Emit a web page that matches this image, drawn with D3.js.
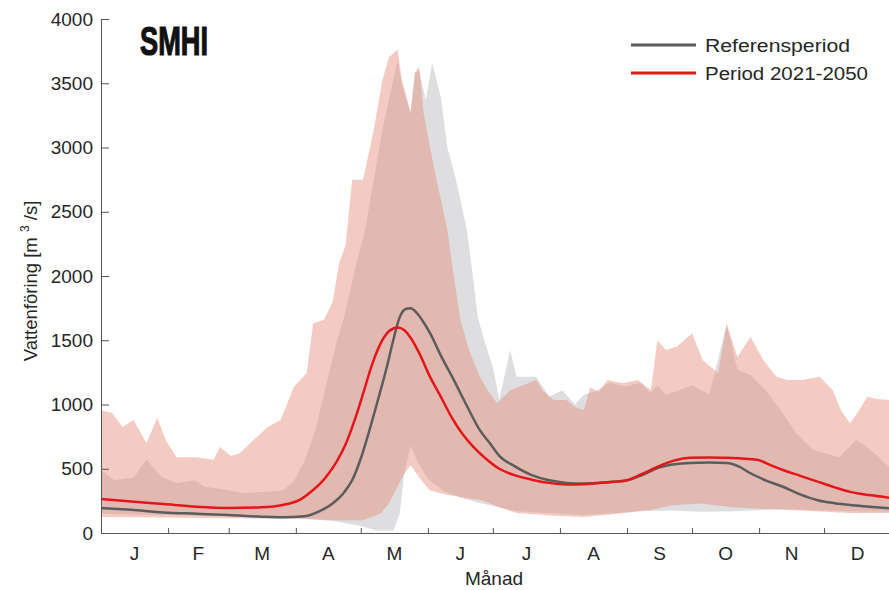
<!DOCTYPE html>
<html>
<head>
<meta charset="utf-8">
<script src="https://cdn.jsdelivr.net/npm/d3@7"></script>
<style>
  body { margin: 0; background: #fff; }
  text { font-family: "Liberation Sans", Arial, sans-serif; fill: #262626; }
</style>
</head>
<body>
<div id="chart"></div>
<script>
// dag på året, värde (m3/s)
var monthLabels = ["J","F","M","A","M","J","J","A","S","O","N","D"];
var monthStarts = [1,32,60,91,121,152,182,213,244,274,305,335,366];
var yTicks = [0,500,1000,1500,2000,2500,3000,3500,4000];

var refMean = [[1,195],[15,180],[30,160],[45,150],[60,140],[75,127],[85,122],[95,130],[102,170],[108,230],[113,310],[117,410],[121,580],[125,800],[129,1040],[133,1290],[136,1500],[139,1680],[142,1745],[144,1750],[147,1710],[150,1640],[153,1555],[158,1380],[164,1190],[170,990],[176,800],[181,690],[185,600],[192,520],[200,450],[208,410],[216,390],[224,385],[231,390],[238,398],[244,410],[251,450],[258,505],[266,535],[273,545],[282,548],[290,545],[296,515],[301,465],[308,410],[316,360],[324,300],[332,255],[340,232],[347,218],[356,205],[365,192]];

var futMean = [[1,265],[15,245],[30,225],[45,205],[60,195],[75,200],[85,218],[93,260],[99,335],[102,380],[106,460],[110,560],[114,690],[118,870],[122,1080],[126,1300],[130,1470],[134,1570],[138,1600],[141,1580],[144,1520],[148,1400],[153,1215],[158,1060],[163,900],[168,770],[173,670],[178,590],[185,500],[192,450],[200,415],[208,390],[216,378],[224,380],[231,390],[238,398],[244,410],[251,460],[258,515],[266,565],[273,585],[282,588],[290,585],[297,580],[304,570],[310,530],[316,490],[324,445],[332,400],[340,355],[347,320],[356,295],[365,275]];

var futMax = [[1,955],[6,935],[11,825],[16,880],[22,700],[27,895],[31,720],[36,590],[45,590],[53,570],[56,670],[61,600],[65,620],[70,700],[78,825],[84,880],[90,1135],[96,1245],[99,1630],[104,1660],[108,1800],[111,2100],[114,2240],[117,2750],[122,2750],[124,2900],[127,3140],[131,3525],[134,3705],[138,3760],[140,3525],[144,3270],[146,3580],[148,3630],[150,3270],[153,3000],[156,2750],[161,2360],[164,1990],[167,1660],[171,1425],[176,1215],[180,1100],[184,1010],[190,1110],[196,1150],[202,1190],[205,1110],[210,1035],[216,1035],[220,980],[224,955],[227,1135],[231,1100],[235,1190],[242,1165],[249,1190],[255,1110],[258,1500],[262,1425],[267,1450],[274,1555],[279,1345],[286,1245],[290,1630],[295,1370],[301,1525],[307,1345],[313,1215],[318,1190],[325,1190],[333,1215],[339,1110],[343,950],[347,855],[351,950],[355,1060],[360,1040],[365,1035]];

var futMin = [[1,125],[30,120],[60,115],[90,110],[110,100],[122,100],[130,150],[134,230],[137,330],[141,460],[144,530],[148,430],[153,330],[160,300],[170,270],[177,255],[185,200],[193,155],[210,135],[224,125],[240,150],[255,180],[265,215],[278,230],[293,200],[316,180],[347,155],[365,155]];

var refMax = [[1,490],[7,410],[16,430],[22,570],[29,435],[36,390],[44,410],[49,360],[59,335],[67,310],[76,320],[85,330],[90,400],[95,560],[100,800],[105,1150],[110,1500],[113,1660],[119,2100],[123,2360],[127,2750],[131,3140],[134,3370],[138,3680],[140,3490],[144,3270],[146,3580],[148,3600],[151,3370],[154,3660],[158,3390],[161,3000],[165,2750],[170,2360],[173,1970],[175,1680],[178,1500],[182,1290],[185,1035],[190,1425],[193,1215],[202,1215],[208,1060],[214,1110],[220,1000],[224,1075],[229,1100],[236,1170],[243,1140],[250,1170],[255,1090],[258,1150],[262,1075],[268,1110],[274,1150],[282,1075],[290,1620],[295,1270],[301,1230],[308,1110],[315,955],[322,780],[330,645],[342,590],[350,725],[355,670],[365,515]];

var refMin = [[1,150],[30,140],[60,130],[90,120],[110,90],[122,50],[128,20],[136,20],[139,150],[141,450],[144,680],[147,560],[152,420],[160,320],[170,260],[177,230],[193,170],[224,140],[250,170],[265,175],[278,165],[293,170],[316,185],[347,170],[365,165]];

var W = 889, H = 590;
var plot = {left: 101, right: 889, top: 19, bottom: 533};

var svg = d3.select("#chart").append("svg")
	.attr("width", W)
	.attr("height", H);

var x = d3.scaleLinear().domain([1,365]).range([plot.left, plot.right]);
var y = d3.scaleLinear().domain([0,4000]).range([plot.bottom, plot.top]);

svg.append("defs").append("clipPath")
	.attr("id", "clip")
	.append("rect")
	.attr("x", plot.left)
	.attr("y", plot.top)
	.attr("width", plot.right - plot.left)
	.attr("height", plot.bottom - plot.top);

var pts = d3.line()
	.x(function(d) { return x(d[0]); })
	.y(function(d) { return y(d[1]); });

function band(upper, lower) {
	return pts(upper.concat(lower.slice().reverse())) + "Z";
}

var g = svg.append("g").attr("clip-path", "url(#clip)");

//band referensperiod
g.append("path")
	.attr("d", band(refMax, refMin))
	.attr("fill", "rgb(185,185,192)")
	.attr("fill-opacity", 0.48);
//band framtid
g.append("path")
	.attr("d", band(futMax, futMin))
	.attr("fill", "rgb(230,140,120)")
	.attr("fill-opacity", 0.45);

var smooth = d3.line()
	.x(function(d) { return x(d[0]); })
	.y(function(d) { return y(d[1]); })
	.curve(d3.curveMonotoneX);

g.append("path")
	.attr("d", smooth(refMean))
	.attr("fill", "none")
	.attr("stroke", "#5c5c5c")
	.attr("stroke-width", 2.5);
g.append("path")
	.attr("d", smooth(futMean))
	.attr("fill", "none")
	.attr("stroke", "#e3161a")
	.attr("stroke-width", 2.5);

//axlar
var yAxis = svg.append("g")
	.attr("transform", "translate(" + plot.left + ",0)")
	.call(d3.axisLeft(y).tickValues(yTicks).tickFormat(d3.format("d")).tickSizeInner(-8).tickSizeOuter(0).tickPadding(8));
var xAxis = svg.append("g")
	.attr("transform", "translate(0," + plot.bottom + ")")
	.call(d3.axisBottom(x).tickValues(monthStarts.slice(1, 12)).tickSizeInner(-5).tickSizeOuter(0).tickFormat(""));

[yAxis, xAxis].forEach(function(a) {
	a.select(".domain").attr("stroke", "#555");
	a.selectAll(".tick line").attr("stroke", "#555");
});
yAxis.selectAll(".tick text")
	.attr("font-size", 19)
	.attr("font-family", "Liberation Sans, Arial, sans-serif")
	.attr("fill", "#262626");

svg.append("g").selectAll("text")
	.data(monthLabels)
	.enter()
	.append("text")
	.attr("x", function(d, i) { return x((monthStarts[i] + monthStarts[i+1]) / 2); })
	.attr("y", 560)
	.attr("text-anchor", "middle")
	.attr("font-size", 19)
	.text(function(d) { return d; });

svg.append("text")
	.attr("x", 494)
	.attr("y", 585)
	.attr("text-anchor", "middle")
	.attr("font-size", 19)
	.text("Månad");

var yl = svg.append("text")
	.attr("transform", "translate(37,281) rotate(-90)")
	.attr("text-anchor", "middle")
	.attr("font-size", 18.5);
yl.append("tspan").text("Vattenföring [m ");
yl.append("tspan").attr("font-size", 12).attr("dy", -8).text("3");
yl.append("tspan").attr("dy", 8).text(" /s]");

//SMHI logo
svg.append("text")
	.attr("x", 140)
	.attr("y", 55)
	.attr("font-family", "Liberation Sans Narrow, DejaVu Sans Condensed, Arial Narrow, sans-serif")
	.attr("font-weight", "bold")
	.attr("font-size", 40)
	.attr("textLength", 68)
	.attr("lengthAdjust", "spacingAndGlyphs")
	.style("fill", "#111")
	.style("stroke", "#111")
	.style("stroke-width", 1.2)
	.text("SMHI");

//legend
var legend = [
	{name: "Referensperiod", color: "#5c5c5c", len: 145},
	{name: "Period 2021-2050", color: "#e3161a", len: 163}
];
var lg = svg.append("g").selectAll("g")
	.data(legend)
	.enter()
	.append("g")
	.attr("transform", function(d, i) { return "translate(0," + (45 + i * 28) + ")"; });
lg.append("line")
	.attr("x1", 631).attr("x2", 696)
	.attr("stroke", function(d) { return d.color; })
	.attr("stroke-width", 3);
lg.append("text")
	.attr("x", 705)
	.attr("y", 7)
	.attr("font-size", 18)
	.attr("textLength", function(d) { return d.len; })
	.attr("lengthAdjust", "spacingAndGlyphs")
	.text(function(d) { return d.name; });
</script>
</body>
</html>
